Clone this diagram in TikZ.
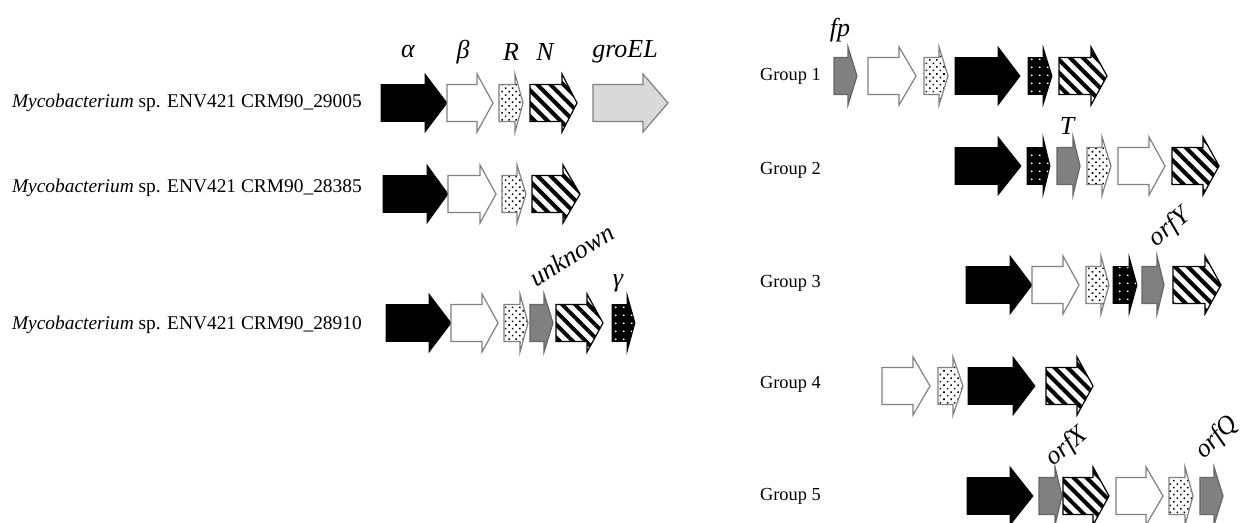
\documentclass[tikz,border=0pt]{standalone}
\usepackage{fontspec}
\setmainfont{Liberation Serif}
\usetikzlibrary{patterns.meta}

\newcommand{\gene}[5]{%
  \draw[#5] (#1,#4-18.5) -- (#3,#4-18.5) -- (#3,#4-29) -- (#2,#4)
    -- (#3,#4+29) -- (#3,#4+18.5) -- (#1,#4+18.5) -- cycle;}

\tikzset{
  blk/.style={fill=black, draw=black, line width=0.4pt},
  wht/.style={fill=white, draw=gray, line width=0.6pt},
  lgr/.style={fill=black!15, draw=gray, line width=0.6pt},
  gry/.style={fill=black!50, draw=black!60, line width=0.6pt},
  dot/.style={preaction={fill=white}, pattern={Dots[distance=2.5pt, radius=0.55pt, angle=45]},
    draw=gray, line width=0.6pt},
  hat/.style={preaction={fill=white}, pattern={Lines[angle=-45, distance=4.6pt, line width=2pt]},
    draw=black, line width=0.6pt},
  bdt/.style={preaction={fill=black}, pattern={Dots[distance=4pt, radius=0.55pt]},
    pattern color=white, draw=black, line width=0.4pt},
  strain/.style={anchor=west, font=\fontsize{9.7}{11}\selectfont},
  grp/.style={anchor=west, font=\fontsize{9.2}{11}\selectfont},
  glab/.style={font=\fontsize{13}{15}\selectfont\itshape}
}

\begin{document}
\begin{tikzpicture}[x=0.5pt, y=-0.5pt]
\useasboundingbox (0,0) rectangle (1240,523);

% left panel
\node[strain] (strone) at (5,103) {\textit{Mycobacterium} sp. ENV421 CRM90\_29005};
\node[strain] (strtwo) at (5,188) {\textit{Mycobacterium} sp. ENV421 CRM90\_28385};
\node[strain] (strthree) at (5,325) {\textit{Mycobacterium} sp. ENV421 CRM90\_28910};

\gene{381}{447}{425}{103}{blk}
\gene{447}{493}{477}{103}{wht}
\gene{499}{523}{515}{103}{dot}
\gene{530}{577}{562}{103}{hat}
\gene{593}{668}{643}{103}{lgr}
\node[glab] (alpha) at (408,52) {α};
\node[glab] (beta) at (463,52) {β};
\node[glab] (regR) at (511,52) {R};
\node[glab] (genN) at (545,52) {N};
\node[glab] (groel) at (625,52) {groEL};

\gene{383}{448}{427}{194}{blk}
\gene{448}{496}{480}{194}{wht}
\gene{502}{526}{517}{194}{dot}
\gene{532}{580}{563}{194}{hat}

\gene{386}{451}{429}{323}{blk}
\gene{451}{498}{482}{323}{wht}
\gene{504}{528}{520}{323}{dot}
\gene{530}{553}{544}{323}{gry}
\gene{556}{603}{587}{323}{hat}
\gene{612}{635}{627}{323}{bdt}
\node[glab, rotate=32] (unkn) at (572,255) {unknown};
\node[glab] (gamma) at (618,283) {γ};

% right panel
\node[grp] (gone) at (753,76) {Group 1};
\node[grp] (gtwo) at (753,170) {Group 2};
\node[grp] (gthree) at (753,283) {Group 3};
\node[grp] (gfour) at (753,384) {Group 4};
\node[grp] (gfive) at (753,496) {Group 5};

\gene{834}{857}{848}{76}{gry}
\gene{868}{916}{899}{76}{wht}
\gene{924}{948}{939}{76}{dot}
\gene{955}{1020}{998}{76}{blk}
\gene{1028}{1052}{1043}{76}{bdt}
\gene{1059}{1107}{1091}{76}{hat}
\node[glab] (fp) at (840,30) {fp};

\gene{955}{1021}{998}{166}{blk}
\gene{1027}{1050}{1043}{166}{bdt}
\gene{1057}{1080}{1073}{166}{gry}
\gene{1087}{1111}{1102}{166}{dot}
\gene{1118}{1165}{1149}{166}{wht}
\gene{1172}{1219}{1203}{166}{hat}
\node[glab] (genT) at (1067,126) {T};

\gene{966}{1032}{1010}{285}{blk}
\gene{1032}{1079}{1063}{285}{wht}
\gene{1086}{1109}{1101}{285}{dot}
\gene{1113}{1137}{1129}{285}{bdt}
\gene{1142}{1164}{1157}{285}{gry}
\gene{1173}{1221}{1205}{285}{hat}
\node[glab, rotate=40] (orfy) at (1170,228) {orfY};

\gene{882}{930}{913}{386}{wht}
\gene{938}{963}{953}{386}{dot}
\gene{968}{1035}{1013}{386}{blk}
\gene{1046}{1093}{1077}{386}{hat}

\gene{967}{1033}{1010}{496}{blk}
\gene{1039}{1062}{1055}{496}{gry}
\gene{1063}{1109}{1093}{496}{hat}
\gene{1116}{1163}{1146}{496}{wht}
\gene{1169}{1193}{1185}{496}{dot}
\gene{1200}{1223}{1214}{496}{gry}
\node[glab, rotate=40] (orfx) at (1067,447) {orfX};
\node[glab, rotate=45] (orfq) at (1217,438) {orfQ};
\end{tikzpicture}
\end{document}
